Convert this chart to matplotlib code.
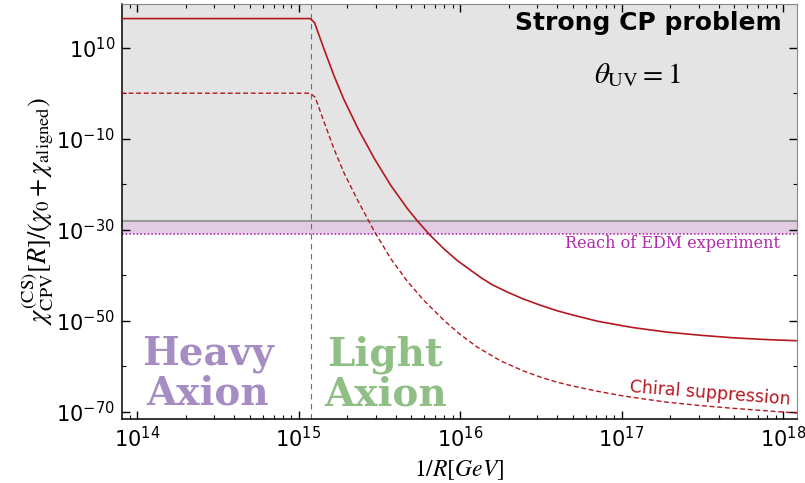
import numpy as np
from matplotlib import pyplot as plt
from matplotlib.ticker import FixedLocator, FuncFormatter, LogLocator, NullFormatter

# curves, stored as log10 values
solid_logx = [13.90, 15.072, 15.099, 15.16, 15.22, 15.28, 15.37, 15.47, 15.572, 15.675,
              15.737, 15.809, 15.90, 15.984, 16.128, 16.20, 16.293, 16.39, 16.498, 16.60,
              16.704, 16.85, 16.99, 17.07, 17.28, 17.49, 17.69, 17.90, 18.09]
solid_logy = [16.4, 16.4, 15.5, 9.5, 3.8, -1.3, -7.9, -14.4, -20.3, -25.4,
              -28.1, -31.0, -34.2, -36.8, -40.5, -42.1, -43.7, -45.2, -46.6, -47.8,
              -48.8, -50.1, -51.0, -51.5, -52.5, -53.2, -53.75, -54.15, -54.4]

dashed_logx = [13.90, 15.072, 15.103, 15.16, 15.22, 15.28, 15.37, 15.47, 15.572, 15.675,
               15.778, 15.90, 16.0, 16.107, 16.25, 16.39, 16.498, 16.60, 16.704, 16.85,
               16.99, 17.07, 17.28, 17.49, 17.69, 17.90, 18.09]
dashed_logy = [0.0, 0.0, -0.9, -6.5, -12.3, -17.4, -23.8, -30.4, -36.4, -41.4,
               -45.6, -49.9, -53.0, -55.8, -58.8, -61.0, -62.4, -63.5, -64.4, -65.5,
               -66.4, -66.85, -67.9, -68.65, -69.25, -69.8, -70.3]

boundary_logx = 15.075      # heavy / light axion split
strong_cp_logy = -28.0      # gray region starts here
edm_reach_logy = -30.9      # dotted EDM line

xlim_log = (13.907, 18.087)
ylim_log = (-71.6, 19.6)
y_major = [10, -10, -30, -50, -70]
y_minor = [0, -20, -40, -60]

RED = "#b3181f"

fig = plt.figure(figsize=(8.05, 4.83), dpi=100)
ax = fig.add_axes([0.1516, 0.1325, 0.8385, 0.8592])
ax.set_xscale("log")
ax.set_yscale("log")
ax.set_xlim(10.0 ** xlim_log[0], 10.0 ** xlim_log[1])
ax.set_ylim(10.0 ** ylim_log[0], 10.0 ** ylim_log[1])

# shaded regions
ax.axhspan(10.0 ** strong_cp_logy, 10.0 ** ylim_log[1], color="#e4e4e4", lw=0, zorder=0)
ax.axhspan(10.0 ** edm_reach_logy, 10.0 ** strong_cp_logy, color="#e3cbe3", lw=0, zorder=0)
ax.axhline(10.0 ** strong_cp_logy, color="#999999", lw=1.5, zorder=1)
ax.axhline(10.0 ** edm_reach_logy, color="#a818a8", lw=1.1, ls=(0, (1, 1.4)), zorder=1)
ax.axvline(10.0 ** boundary_logx, color="#2f7fc1", lw=0.8, ls=(0, (5, 4)), zorder=1)

ax.plot(10.0 ** np.array(solid_logx), 10.0 ** np.array(solid_logy), color=RED, lw=1.2, zorder=3)
ax.plot(10.0 ** np.array(dashed_logx), 10.0 ** np.array(dashed_logy), color=RED, lw=1.0,
        ls=(0, (3.5, 2)), zorder=3)

# ticks
ax.yaxis.set_major_locator(FixedLocator([10.0 ** e for e in y_major]))
ax.yaxis.set_minor_locator(FixedLocator([10.0 ** e for e in y_minor]))
ax.yaxis.set_minor_formatter(NullFormatter())
ax.xaxis.set_major_locator(LogLocator(base=10, numticks=20))
ax.xaxis.set_minor_locator(LogLocator(base=10, subs=np.arange(2, 10), numticks=20))
ax.xaxis.set_minor_formatter(NullFormatter())
fmt = FuncFormatter(lambda v, p: r"$10^{%d}$" % int(round(np.log10(v))))
ax.xaxis.set_major_formatter(fmt)
ax.yaxis.set_major_formatter(fmt)
ax.tick_params(which="both", direction="in", top=True, right=True, labelsize=15)
ax.tick_params(which="major", length=6, width=1.0, pad=5)
ax.tick_params(which="minor", length=3, width=0.8)
for side in ["top", "right"]:
    ax.spines[side].set_color("#888888")
for side in ["left", "bottom"]:
    ax.spines[side].set_linewidth(1.1)

ax.set_xlabel(r"$\mathit{1}/R[GeV]$", fontsize=17, math_fontfamily="stix", labelpad=5)
ax.set_ylabel(r"$\chi^{\rm (CS)}_{\rm CPV}[R]/(\chi_0+\chi_{\rm aligned})$", fontsize=19,
              math_fontfamily="stix", labelpad=0)

# annotations
ax.text(0.977, 0.955, "Strong CP problem", transform=ax.transAxes, ha="right", va="center",
        fontsize=18, fontweight="bold", family="DejaVu Sans")
ax.text(0.764, 0.828, r"$\theta_{\rm UV} = 1$", transform=ax.transAxes, ha="center",
        va="center", fontsize=21, math_fontfamily="stix")
ax.text(0.975, 0.424, "Reach of EDM experiment", transform=ax.transAxes, ha="right",
        va="center", fontsize=11.5, family="DejaVu Serif", color="#b02ab0")
ax.text(0.871, 0.063, "Chiral suppression", transform=ax.transAxes, ha="center",
        va="center", fontsize=12.5, color=RED, rotation=-4.5)
ax.text(0.127, 0.108, "Heavy\nAxion", transform=ax.transAxes, ha="center", va="center",
        fontsize=28, fontweight="bold", family="DejaVu Serif", color="#a58cc3",
        linespacing=1.05)
ax.text(0.39, 0.108, "Light\nAxion", transform=ax.transAxes, ha="center", va="center",
        fontsize=28, fontweight="bold", family="DejaVu Serif", color="#8fbf85",
        linespacing=1.05)

fig.savefig("out.png", dpi=100)
